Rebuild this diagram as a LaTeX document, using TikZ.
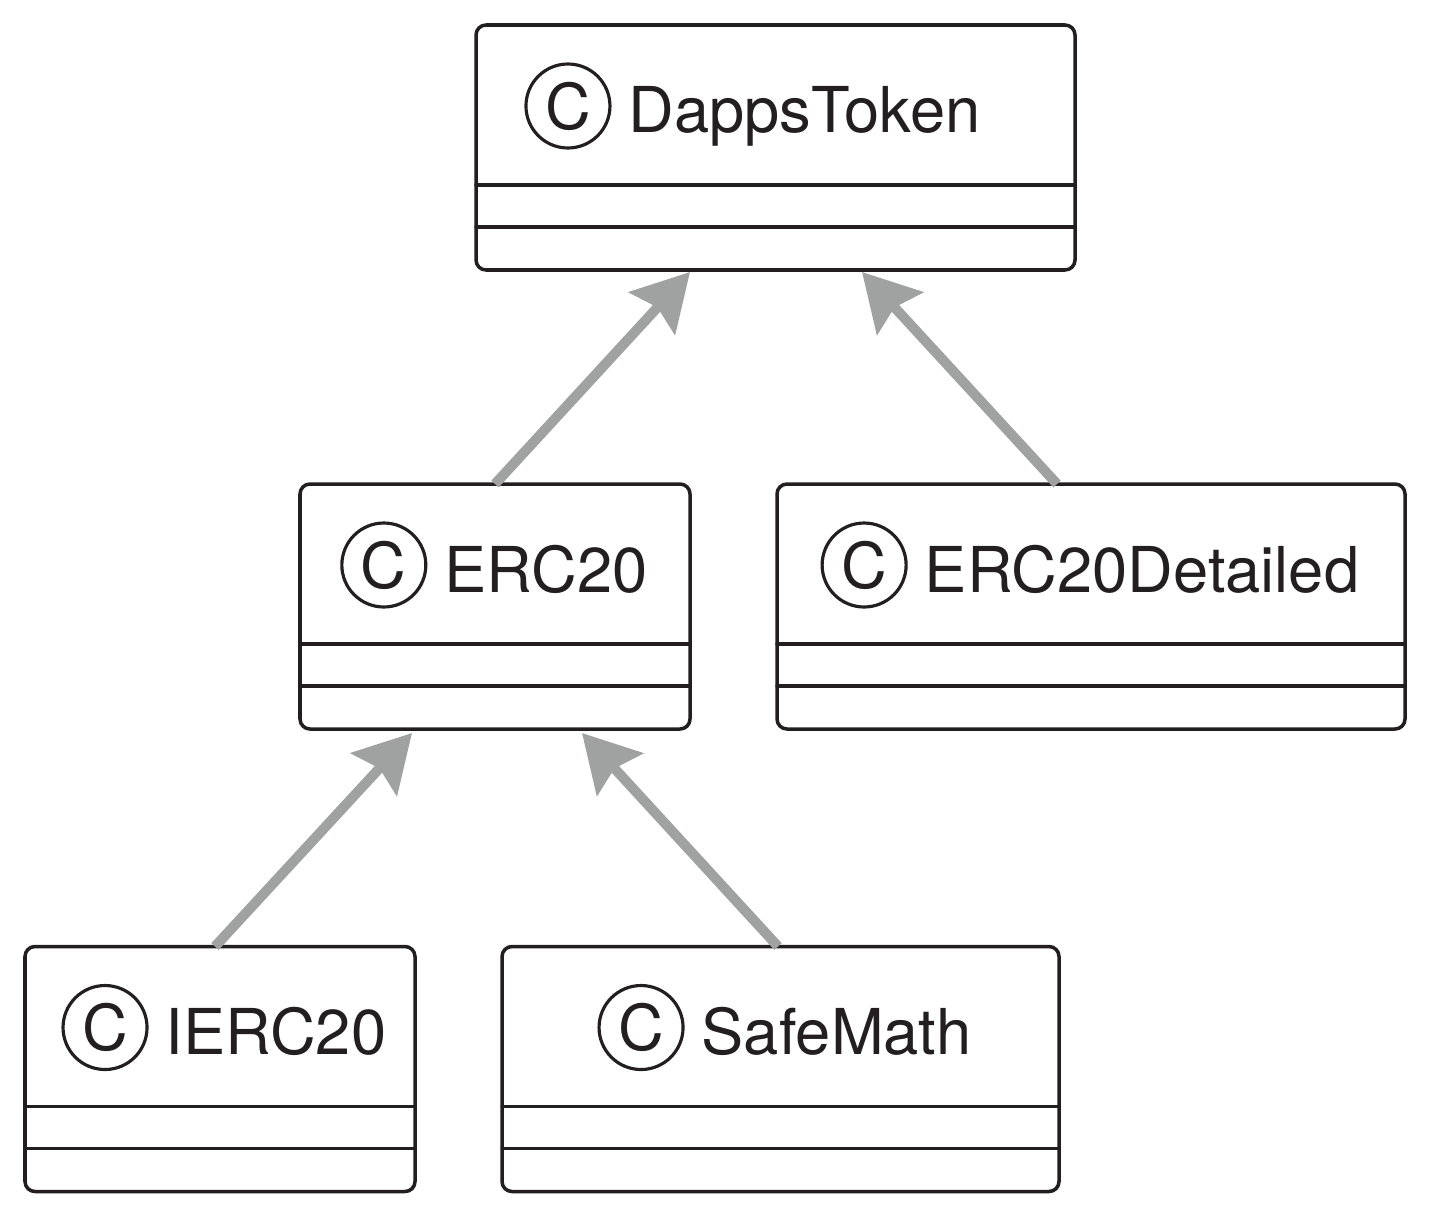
\documentclass[tikz,border=0pt]{standalone}
\usepackage{fontspec}
\setmainfont{TeX Gyre Heros}
\usetikzlibrary{arrows.meta,calc}
\definecolor{inhgray}{RGB}{160,162,162}
\definecolor{inkblack}{RGB}{35,31,32}
\tikzset{
  classbox/.style={draw=inkblack, line width=1pt, rounded corners=0.1cm, minimum height=2.45cm, inner sep=0, outer sep=0},
  classline/.style={draw=inkblack, line width=1pt},
  classname/.style={anchor=base, inner sep=0, text=inkblack, font=\fontsize{18}{20}\selectfont},
  stereo/.style={circle, draw=inkblack, line width=0.9pt, minimum size=0.84cm, inner sep=0, text=inkblack, font=\fontsize{18}{20}\selectfont},
  inherit/.style={draw=inhgray, line width=0.1cm, line cap=butt, -{Stealth[length=0.56cm, width=0.62cm, inset=0.08cm]}}
}
% [label shift], name, centre, width, label
\newcommand{\umlclass}[5][0]{%
  \node[classbox, minimum width=#4cm] (#2) at (#3) {};
  \draw[classline] ($(#2.north west)+(0,-1.6)$) -- ($(#2.north east)+(0,-1.6)$);
  \draw[classline] ($(#2.north west)+(0,-2.02)$) -- ($(#2.north east)+(0,-2.02)$);
  \node[classname] (#2-name) at ($(#2.north)+(#1,-1.08)$) {\hspace{1.02cm}#5};
  \node[stereo] (#2-c) at ($(#2-name.base west)+(0.42,0.27)$) {C};
}
\begin{document}
\begin{tikzpicture}[line join=round, line cap=round]
  \useasboundingbox (0,0) rectangle (14.3,12.17);
  % classes
  \umlclass[-0.22]{dapps}{7.755,10.695}{5.99}{DappsToken}
  \umlclass{erc}{4.95,6.105}{3.9}{ERC20}
  \umlclass{detailed}{10.91,6.105}{6.28}{ERC20Detailed}
  \umlclass[0.05]{ierc}{2.20,1.48}{3.9}{IERC20}
  \umlclass[0.05]{safemath}{7.805,1.48}{5.57}{SafeMath}
  % inheritance
  \draw[inherit] (erc.north) -- ($(dapps.south)+(-0.855,-0.02)$);
  \draw[inherit] ($(detailed.north)+(-0.34,0)$) -- ($(dapps.south)+(0.865,-0.02)$);
  \draw[inherit] ($(ierc.north)+(-0.05,0)$) -- ($(erc.south)+(-0.83,-0.04)$);
  \draw[inherit] ($(safemath.north)+(-0.025,0)$) -- ($(erc.south)+(0.87,-0.04)$);
\end{tikzpicture}
\end{document}
